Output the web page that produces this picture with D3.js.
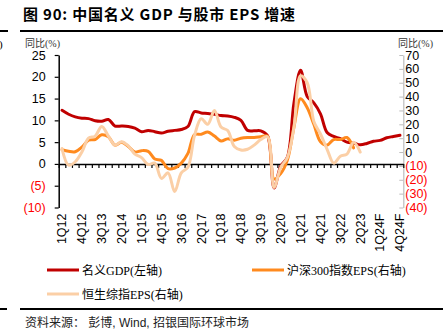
<!DOCTYPE html>
<html>
<head>
<meta charset="utf-8">
<script src="https://cdn.jsdelivr.net/npm/d3@7"></script>
<style>
  html, body { margin: 0; padding: 0; background: #fff; }
  svg { display: block; }
</style>
</head>
<body>
<svg id="chart" width="443" height="334"></svg>
<script>
// Quarterly categories, 1Q12 to 4Q24F
const quarters = [
  "1Q12","2Q12","3Q12","4Q12","1Q13","2Q13","3Q13","4Q13",
  "1Q14","2Q14","3Q14","4Q14","1Q15","2Q15","3Q15","4Q15",
  "1Q16","2Q16","3Q16","4Q16","1Q17","2Q17","3Q17","4Q17",
  "1Q18","2Q18","3Q18","4Q18","1Q19","2Q19","3Q19","4Q19",
  "1Q20","2Q20","3Q20","4Q20","1Q21","2Q21","3Q21","4Q21",
  "1Q22","2Q22","3Q22","4Q22","1Q23","2Q23","3Q23","4Q23",
  "1Q24F","2Q24F","3Q24F","4Q24F"
];

// Nominal GDP yoy (%), left axis
const gdp = [
  12.3, 11.4, 10.8, 10.5, 10.4, 9.9, 9.8, 10.2,
  8.7, 8.7, 8.6, 8.2, 7.4, 7.7, 7.4, 7.1,
  7.5, 7.7, 7.9, 8.6, 12.0, 11.7, 11.6, 11.4,
  11.1, 11.0, 10.7, 10.0, 7.7, 7.6, 7.6, 6.5,
  -5.5, -0.5, 1.5, 14.0, 21.5, 15.5, 14.0, 11.5,
  7.2, 6.3, 5.8, 5.0, 4.8, 4.4, 4.7, 5.2,
  5.4, 6.0, 6.3, 6.6
];

// CSI 300 EPS yoy (%), right axis
const csi300Eps = [
  1.7, 0.5, 0.2, 3.5, 8.5, 9.0, 12.5, 11.0,
  5.0, 7.0, 4.0, 0.0, 1.0, 0.5, -5.0, -6.0,
  -12.0, -11.5, -8.0, -1.0, 12.5, 12.8, 14.5, 11.5,
  8.0, 9.5, 8.5, 10.0, 10.5, 10.5, 11.0, 11.5,
  -19.5, -15.5, -6.0, 18.0, 38.5, 32.0, 20.0, 7.5,
  5.0, 9.0, 9.0, 10.5, 3.0
];

// Hang Seng Composite EPS yoy (%), right axis
const hsciEps = [
  2.5, -9.5, -7.0, 0.0, 10.0, 11.5, 18.5, 11.5,
  5.0, 7.5, 4.5, -1.5, -4.0, -9.0, -8.0, -19.0,
  -15.0, -28.5, -15.0, -11.0, 12.0, 24.0, 20.0, 30.0,
  18.0, 15.5, 4.0, 1.5, 2.0, 5.0, 9.0, 11.0,
  -25.5, -11.0, -4.0, 18.0, 55.0, 50.0, 22.0, 13.0,
  2.0, -8.0, -3.0, -1.5, 7.0, 0.0
];

const leftTicks = [-10, -5, 0, 5, 10, 15, 20, 25];
const rightTicks = [-40, -30, -20, -10, 0, 10, 20, 30, 40, 50, 60, 70];

const series = [
  { name: "名义GDP(左轴)", values: gdp, axis: "left", color: "#c00000" },
  { name: "沪深300指数EPS(右轴)", values: csi300Eps, axis: "right", color: "#ff8a1e" },
  { name: "恒生综指EPS(右轴)", values: hsciEps, axis: "right", color: "#fbcfa6" }
];

const svg = d3.select("#chart");
const latin = "'Liberation Sans', Arial, sans-serif";
const serifMix = "'Liberation Serif', 'Noto Sans CJK SC', serif";

// Title and rules
svg.append("text")
  .attr("x", 23).attr("y", 20)
  .attr("font-family", "'Noto Sans CJK SC', sans-serif")
  .attr("font-weight", "bold")
  .attr("font-size", 15)
  .attr("letter-spacing", 0.8)
  .attr("fill", "#000")
  .text("图 90: 中国名义 GDP 与股市 EPS 增速");

svg.append("line").attr("x1", 20).attr("x2", 443).attr("y1", 31).attr("y2", 31)
  .attr("stroke", "#000").attr("stroke-width", 2);
svg.append("line").attr("x1", 0).attr("x2", 8).attr("y1", 31).attr("y2", 31)
  .attr("stroke", "#000").attr("stroke-width", 2);
svg.append("text").attr("x", -1).attr("y", 48)
  .attr("font-family", serifMix).attr("font-size", 11).text(")");
svg.append("line").attr("x1", 20).attr("x2", 443).attr("y1", 309).attr("y2", 309)
  .attr("stroke", "#000").attr("stroke-width", 2);
svg.append("line").attr("x1", 0).attr("x2", 7).attr("y1", 309).attr("y2", 309)
  .attr("stroke", "#000").attr("stroke-width", 2);

// Scales
const plotTop = 55, plotBottom = 207.5, plotLeft = 58.7, plotRight = 403.3;
const x = d3.scaleBand().domain(quarters).range([plotLeft, plotRight]).padding(0);
const xEdge = d3.scaleLinear().domain([0, quarters.length]).range([plotLeft, plotRight]);
const yL = d3.scaleLinear().domain([-10, 25]).range([plotBottom, plotTop]);
const yR = d3.scaleLinear().domain([-40, 70]).range([plotBottom, plotTop]);

const fmt = v => v < 0 ? `(${Math.abs(v)})` : `${v}`;

// Left axis
const gL = svg.append("g").attr("transform", `translate(${plotLeft},0)`)
  .call(d3.axisLeft(yL).tickValues(leftTicks).tickFormat(fmt).tickSize(4).tickSizeOuter(0).tickPadding(9));
gL.select(".domain").attr("stroke", "#000").attr("stroke-width", 1.5);
gL.selectAll(".tick line").attr("stroke", "#000").attr("stroke-width", 1.2);
gL.selectAll(".tick text")
  .attr("font-family", latin).attr("font-size", 12.5)
  .attr("fill", d => d < 0 ? "#ff0000" : "#000");

// Right axis
const gR = svg.append("g").attr("transform", `translate(${plotRight},0)`)
  .call(d3.axisRight(yR).tickValues(rightTicks).tickFormat(fmt).tickSizeInner(-4).tickSizeOuter(0).tickPadding(2));
gR.select(".domain").attr("stroke", "#bdbdbd").attr("stroke-width", 1.2);
gR.selectAll(".tick line").attr("stroke", "#bdbdbd").attr("stroke-width", 1);
gR.selectAll(".tick text")
  .attr("font-family", latin).attr("font-size", 12.5)
  .attr("fill", d => d < 0 ? "#ff0000" : "#000");

// Axis titles
svg.append("text").attr("x", 25).attr("y", 46.5)
  .attr("font-family", serifMix).attr("font-size", 10).attr("fill", "#333")
  .text("同比(%)");
svg.append("text").attr("x", 398).attr("y", 46.5)
  .attr("font-family", serifMix).attr("font-size", 10).attr("fill", "#333")
  .text("同比(%)");

// Category axis at zero of left scale, tick marks at quarter boundaries
const gX = svg.append("g").attr("transform", `translate(0,${yL(0)})`)
  .call(d3.axisBottom(xEdge).tickValues(d3.range(0, quarters.length + 1)).tickFormat("").tickSize(4).tickSizeOuter(0));
gX.select(".domain").attr("stroke", "#000").attr("stroke-width", 1.5);
gX.selectAll(".tick line").attr("stroke", "#000").attr("stroke-width", 1.2);

// Category labels below the plot, every third quarter
const labelQuarters = quarters.filter((d, i) => i % 3 === 0);
const gXL = svg.append("g").attr("transform", `translate(0,${plotBottom + 1})`)
  .call(d3.axisBottom(x).tickValues(labelQuarters).tickSize(0).tickPadding(0));
gXL.select(".domain").remove();
gXL.selectAll(".tick text")
  .attr("font-family", latin).attr("font-size", 12.5).attr("fill", "#000")
  .attr("transform", "rotate(-90)")
  .attr("text-anchor", "end")
  .attr("x", -5).attr("y", 0).attr("dy", "0.35em");

// Lines
const cx = (d, i) => x(quarters[i]) + x.bandwidth() / 2;
series.forEach(s => {
  const yS = s.axis === "left" ? yL : yR;
  const line = d3.line()
    .x((d, i) => cx(d, i))
    .y(d => yS(d))
    .curve(d3.curveCatmullRom.alpha(0.5));
  svg.append("path")
    .datum(s.values)
    .attr("fill", "none")
    .attr("stroke", s.color)
    .attr("stroke-width", 3)
    .attr("stroke-linejoin", "round")
    .attr("stroke-linecap", "round")
    .attr("d", line);
});

// Legend
const legendPos = [
  { x: 47, y: 270 },
  { x: 252, y: 270 },
  { x: 47, y: 294 }
];
series.forEach((s, i) => {
  const p = legendPos[i];
  svg.append("line")
    .attr("x1", p.x).attr("x2", p.x + 32)
    .attr("y1", p.y).attr("y2", p.y)
    .attr("stroke", s.color).attr("stroke-width", 3);
  svg.append("text")
    .attr("x", p.x + 35).attr("y", p.y + 4.5)
    .attr("font-family", serifMix).attr("font-size", 12).attr("fill", "#000")
    .text(s.name);
});

// Source note
svg.append("text").attr("x", 25).attr("y", 327)
  .attr("font-family", "'Liberation Sans', 'Noto Sans CJK SC', sans-serif")
  .attr("font-size", 12).attr("fill", "#222")
  .text("资料来源： 彭博, Wind, 招银国际环球市场");
</script>
</body>
</html>
